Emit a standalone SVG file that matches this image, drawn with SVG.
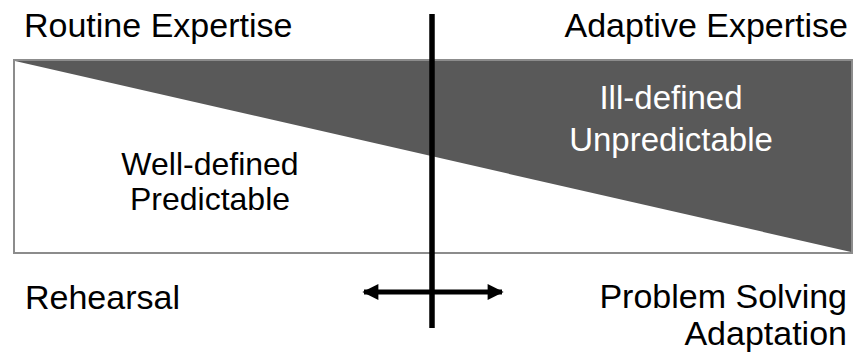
<svg xmlns="http://www.w3.org/2000/svg" width="854" height="360" viewBox="0 0 854 360">
<style>
  text { font-family: "Liberation Sans", Arial, sans-serif; font-size: 34px; fill: #000; }
  .w { fill: #fff; }
  .mid { text-anchor: middle; }
  .end { text-anchor: end; }
</style>
<defs>
  <marker id="ah" viewBox="0 0 10 10" refX="9" refY="5" markerWidth="3.4" markerHeight="3.2" markerUnits="strokeWidth" orient="auto-start-reverse">
    <path d="M0,0 L10,5 L0,10 z" fill="#000"/>
  </marker>
</defs>
<rect width="854" height="360" fill="#fff"/>
<g id="spectrum">
  <rect x="14" y="60" width="838" height="193" fill="#fff" stroke="#8c8c8c" stroke-width="2"/>
  <polygon points="15,61 851,61 851,252" fill="#595959"/>
</g>
<g id="routine">
  <text x="24" y="37">Routine Expertise</text>
</g>
<g id="adaptive">
  <text x="848" y="37" class="end">Adaptive Expertise</text>
</g>
<g id="well">
  <text x="210" y="175" class="mid" style="font-size:32px">Well-defined</text>
  <text x="210" y="210" class="mid" style="font-size:32px">Predictable</text>
</g>
<g id="ill">
  <text x="671" y="109" class="mid w" style="font-size:33px">Ill-defined</text>
  <text x="671" y="151" class="mid w" style="font-size:33px">Unpredictable</text>
</g>
<g id="rehearsal">
  <text x="25" y="309">Rehearsal</text>
</g>
<g id="problem">
  <text x="847" y="308" class="end">Problem Solving</text>
  <text x="847" y="345" class="end">Adaptation</text>
</g>
<g id="connectors">
  <line x1="432" y1="14" x2="432" y2="328" stroke="#000" stroke-width="5.5"/>
  <line x1="364" y1="292" x2="502" y2="292" stroke="#000" stroke-width="5" marker-start="url(#ah)" marker-end="url(#ah)"/>
</g>
</svg>
